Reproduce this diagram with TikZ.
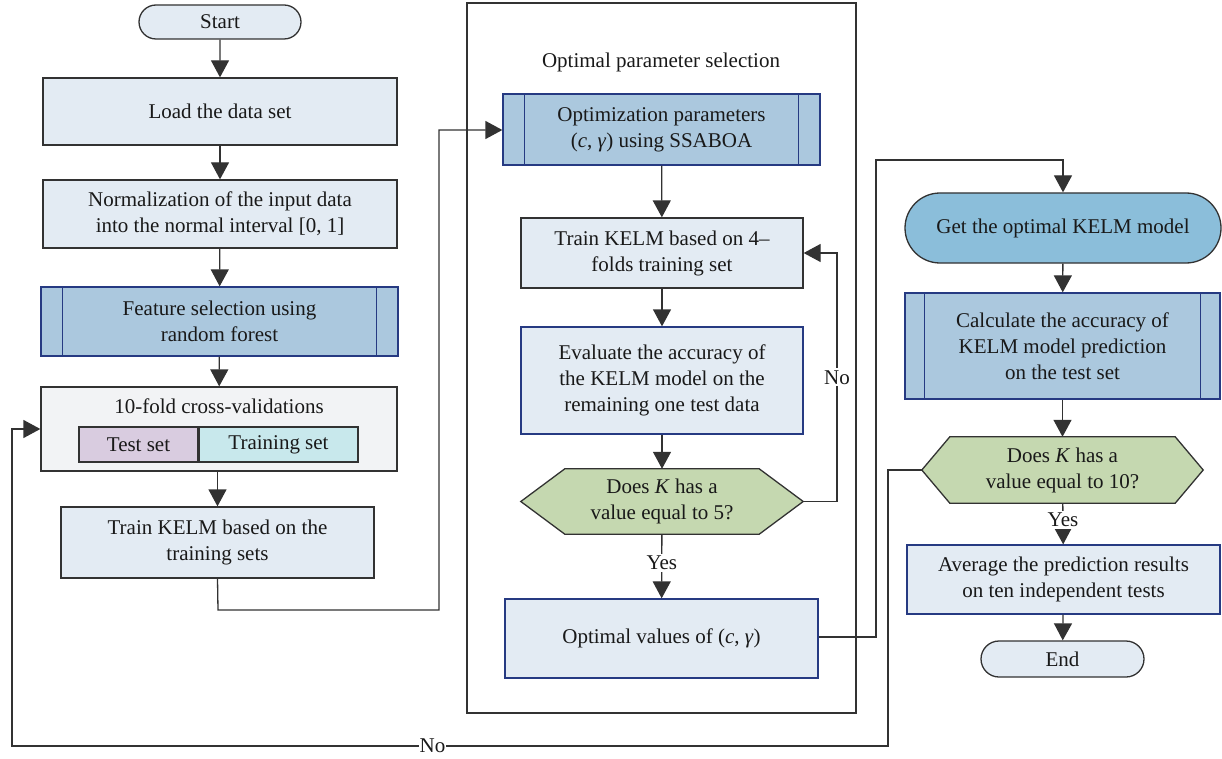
\documentclass[tikz,border=0pt]{standalone}
\usepackage{fontspec}
\setmainfont{Liberation Serif}
\usetikzlibrary{arrows.meta,shapes.misc,backgrounds}
\definecolor{boxfill}{RGB}{227,235,243}
\definecolor{predfill}{RGB}{171,200,222}
\definecolor{getfill}{RGB}{139,190,218}
\definecolor{decfill}{RGB}{197,216,176}
\definecolor{testfill}{RGB}{217,204,224}
\definecolor{trainfill}{RGB}{200,232,236}
\definecolor{cvfill}{RGB}{242,243,245}
\definecolor{navy}{RGB}{38,58,130}
\definecolor{dgrey}{RGB}{50,50,50}
\begin{document}
\begin{tikzpicture}[x=1pt,y=-1pt,
  every node/.style={font=\fontsize{21}{26}\selectfont, text=black!90, align=center, inner sep=0pt},
  base/.style={draw=dgrey, line width=1.3pt, fill=boxfill},
  procbox/.style={base, rectangle},
  navybox/.style={base, draw=navy},
  predbox/.style={base, draw=navy, fill=predfill},
  term/.style={base, rounded rectangle},
  decbox/.style={rectangle, draw=none},
  conn/.style={draw=dgrey, line width=1.3pt},
  arr/.style={conn, -{Triangle[length=17pt,width=18pt]}},
  lbl/.style={fill=white, inner sep=2pt}
]
\useasboundingbox (0,0) rectangle (1222,759);
% container
\draw[conn] (467,3) rectangle (856,713);
\node (ctitle) at (661,62) {Optimal parameter selection};
% left column
\node[term, minimum width=162pt, minimum height=34pt] (start) at (220,22) {Start};
\node[procbox, minimum width=354pt, minimum height=67pt] (load) at (220,111.5) {Load the data set};
\node[procbox, minimum width=354pt, minimum height=68pt] (norm) at (220,214) {Normalization of the input data\\into the normal interval [0, 1]};
\node[predbox, minimum width=357pt, minimum height=69pt] (feat) at (219.5,321.5) {Feature selection using\\random forest};
\node[procbox, fill=cvfill, minimum width=356pt, minimum height=84pt] (cv) at (219,429) {};
\node (cvtitle) at (219,406) {10-fold cross-validations};
\node[procbox, fill=testfill, minimum width=119pt, minimum height=35pt] (test) at (138.5,444.5) {Test set};
\node[procbox, fill=trainfill, minimum width=159pt, minimum height=35pt] (train) at (278.5,444.5) {Training set};
\node[procbox, minimum width=313pt, minimum height=71pt] (tk1) at (217.5,542.5) {Train KELM based on the\\training sets};
% middle column
\node[predbox, minimum width=317pt, minimum height=71pt] (opt) at (661.5,129.5) {Optimization parameters\\(\textit{c}, \textit{γ}) using SSABOA};
\node[procbox, minimum width=282pt, minimum height=70pt] (tk4) at (662,253) {Train KELM based on 4–\\folds training set};
\node[navybox, minimum width=282pt, minimum height=107pt] (eval) at (662,380.5) {Evaluate the accuracy of\\the KELM model on the\\remaining one test data};
\node[decbox, minimum width=282pt, minimum height=65pt] (dec1) at (662,501.5) {Does \textit{K} has a\\value equal to 5?};
\node[navybox, minimum width=313pt, minimum height=79pt] (ov) at (661.5,638.5) {Optimal values of (\textit{c}, \textit{γ})};
% right column
\node[term, fill=getfill, minimum width=316pt, minimum height=70pt] (get) at (1063,228) {Get the optimal KELM model};
\node[predbox, minimum width=315pt, minimum height=106pt] (calc) at (1062.5,346) {Calculate the accuracy of\\KELM model prediction\\on the test set};
\node[decbox, minimum width=281pt, minimum height=66pt] (dec2) at (1062.5,470) {Does \textit{K} has a\\value equal to 10?};
\node[navybox, minimum width=313pt, minimum height=69pt] (avg) at (1063.5,579.5) {Average the prediction results\\on ten independent tests};
\node[term, minimum width=163pt, minimum height=36pt] (end) at (1062.5,659) {End};
% hexagons and predefined-process bars
\begin{scope}[on background layer]
\draw[base, fill=decfill] (dec1.west) -- ([xshift=44pt]dec1.north west) -- ([xshift=-44pt]dec1.north east) -- (dec1.east) -- ([xshift=-44pt]dec1.south east) -- ([xshift=44pt]dec1.south west) -- cycle;
\draw[base, fill=decfill] (dec2.west) -- ([xshift=28pt]dec2.north west) -- ([xshift=-28pt]dec2.north east) -- (dec2.east) -- ([xshift=-28pt]dec2.south east) -- ([xshift=28pt]dec2.south west) -- cycle;
\end{scope}
\foreach \n/\d in {feat/22, opt/22, calc/20}{
  \draw[draw=navy, line width=1.3pt] ([xshift=\d pt]\n.north west) -- ([xshift=\d pt]\n.south west);
  \draw[draw=navy, line width=1.3pt] ([xshift=-\d pt]\n.north east) -- ([xshift=-\d pt]\n.south east);
}
% connectors
\draw[arr] (start) -- (load);
\draw[arr] (load) -- (norm);
\draw[arr] (norm) -- (feat);
\draw[arr] (feat) -- (cv);
\draw[arr] (cv.south -| tk1.north) -- (tk1.north);
\draw[arr] (tk1.south) -- (218,610) -- (439,610) -- (439,130) -- (opt.west |- 0,130);
\draw[arr] (opt) -- (tk4);
\draw[arr] (tk4) -- (eval);
\draw[arr] (eval) -- (dec1);
\draw[arr] (dec1) -- node[lbl, pos=0.45] (yes1) {Yes} (ov);
\draw[arr] (dec1.east) -- (837,501.5) -- node[lbl, pos=0.5] (no1) {No} (837,253) -- (tk4.east);
\draw[arr] (ov.east |- 0,637) -- (876,637) -- (876,160) -- (1063,160) -- (get.north);
\draw[arr] (get) -- (calc);
\draw[arr] (calc) -- (dec2);
\draw[arr] (dec2) -- node[lbl, pos=0.4] (yes2) {Yes} (avg);
\draw[arr] (avg) -- (end);
\draw[arr] (dec2.west) -- (888,470) -- (888,746) -- node[lbl, pos=0.52, inner sep=1pt] (no2) {No} (12,746) -- (12,429) -- (cv.west);
\end{tikzpicture}
\end{document}
